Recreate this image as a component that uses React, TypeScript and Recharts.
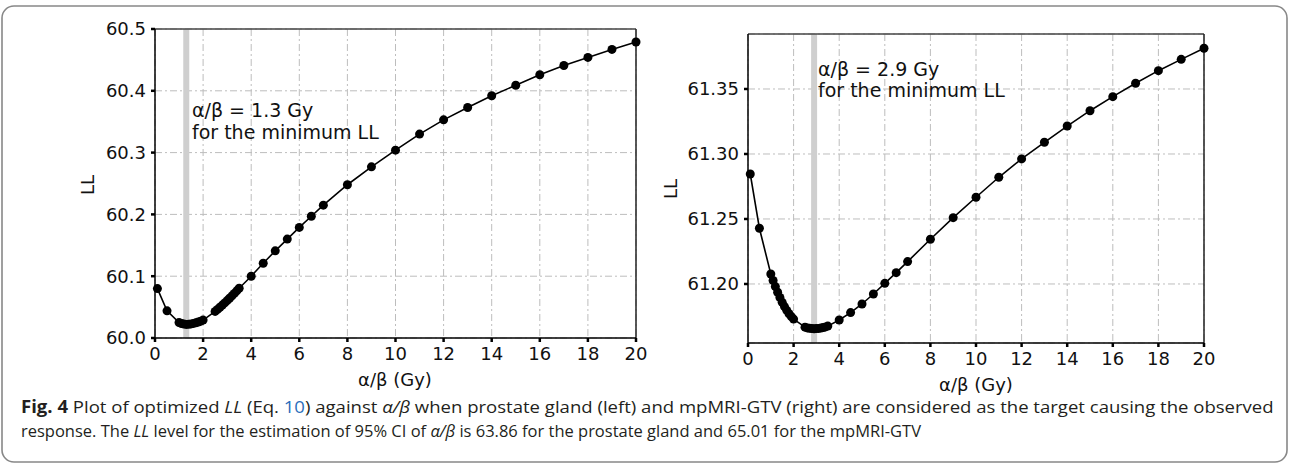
import React, { useLayoutEffect, useRef, useState } from 'react';
import { LineChart, Line, XAxis, YAxis, CartesianGrid, ReferenceLine } from 'recharts';

// α/β values (Gy) at which LL was evaluated
const alphaBeta = [
  0.1, 0.5, 1.0, 1.1, 1.2, 1.3, 1.4, 1.5, 1.6, 1.7, 1.8, 1.9, 2.0,
  2.5, 2.6, 2.7, 2.8, 2.9, 3.0, 3.1, 3.2, 3.3, 3.4, 3.5,
  4, 4.5, 5, 5.5, 6, 6.5, 7, 8, 9, 10, 11, 12, 13, 14, 15, 16, 17, 18, 19, 20,
];

// Optimized LL, prostate gland (left)
const llProstate = [
  60.080, 60.044, 60.025, 60.0235, 60.0225, 60.0220, 60.0222, 60.0228, 60.0236, 60.0246, 60.0258, 60.0273, 60.0290,
  60.0430, 60.0463, 60.0497, 60.0532, 60.0568, 60.0605, 60.0643, 60.0682, 60.0722, 60.0763, 60.0805,
  60.100, 60.121, 60.141, 60.160, 60.179, 60.197, 60.215, 60.248, 60.277, 60.304, 60.330, 60.353, 60.373,
  60.392, 60.409, 60.426, 60.441, 60.454, 60.467, 60.479,
];

// Optimized LL, mpMRI-GTV (right)
const llGtv = [
  61.2846, 61.2429, 61.2077, 61.2027, 61.1980, 61.1936, 61.1896, 61.1859, 61.1826, 61.1797, 61.1771, 61.1749, 61.1730,
  61.1668, 61.1662, 61.1659, 61.1657, 61.1656, 61.1657, 61.1658, 61.1661, 61.1665, 61.1670, 61.1676,
  61.1723, 61.1780, 61.1846, 61.1923, 61.2005, 61.2087, 61.2172, 61.2344, 61.2510, 61.2667, 61.2821, 61.2962,
  61.3090, 61.3215, 61.3333, 61.3441, 61.3544, 61.3641, 61.3728, 61.3813,
];

const xTicks = [0, 2, 4, 6, 8, 10, 12, 14, 16, 18, 20];
const yTicksProstate = [60.0, 60.1, 60.2, 60.3, 60.4, 60.5];
const yTicksGtv = [61.2, 61.25, 61.3, 61.35];
const xDomain = [0, 20];
const prostateDomain = [60.0, 60.5];
const gtvDomain = [61.1546, 61.3923];
const prostateMinAB = 1.3;
const gtvMinAB = 2.9;

const prostateData = alphaBeta.map((ab, i) => ({ ab, ll: llProstate[i] }));
const gtvData = alphaBeta.map((ab, i) => ({ ab, ll: llGtv[i] }));

const TICK_FONT = { fontFamily: 'DejaVu Sans', fontSize: 18, fill: '#111' };
const GRID = { stroke: '#bdbdbd', strokeDasharray: '7 3 2 3', strokeWidth: 1 };

function Panel({ data, yDomain, yTicks, yFmt, minAB, width, height, margin, yWidth }: any) {
  return (
    <LineChart width={width} height={height} data={data} margin={margin}>
      <CartesianGrid {...GRID} />
      <ReferenceLine x={minAB} stroke="#cfcfcf" strokeWidth={6} ifOverflow="visible" />
      <ReferenceLine y={yDomain[1]} stroke="#444" strokeWidth={1.3} />
      <ReferenceLine x={xDomain[1]} stroke="#222" strokeWidth={1.5} />
      <XAxis
        dataKey="ab"
        type="number"
        domain={xDomain}
        ticks={xTicks}
        interval={0}
        height={30}
        tickSize={4}
        tickMargin={5}
        axisLine={{ stroke: '#000', strokeWidth: 1.5 }}
        tickLine={{ stroke: '#000', strokeWidth: 2.5 }}
        tick={TICK_FONT}
      />
      <YAxis
        dataKey="ll"
        type="number"
        domain={yDomain}
        ticks={yTicks}
        interval={0}
        width={yWidth}
        tickSize={4}
        tickMargin={5}
        tickFormatter={yFmt}
        axisLine={{ stroke: '#000', strokeWidth: 1.5 }}
        tickLine={{ stroke: '#000', strokeWidth: 2.5 }}
        tick={TICK_FONT}
        allowDataOverflow
      />
      <Line
        dataKey="ll"
        stroke="#000"
        strokeWidth={1.6}
        dot={{ r: 4.5, fill: '#000', stroke: '#000', strokeWidth: 0 }}
        activeDot={false}
        isAnimationActive={false}
      />
    </LineChart>
  );
}

function FitLine({ x, y, width, children }: any) {
  const ref = useRef<HTMLDivElement>(null);
  const [sx, setSx] = useState(1);
  useLayoutEffect(() => {
    if (ref.current) {
      const w = ref.current.scrollWidth;
      if (w > 0) setSx(width / w);
    }
  }, [width]);
  return (
    <div
      ref={ref}
      style={{
        position: 'absolute',
        left: x,
        top: y,
        whiteSpace: 'nowrap',
        fontFamily: 'Open Sans',
        fontSize: 17,
        lineHeight: '20px',
        color: '#231f20',
        transform: `scaleX(${sx})`,
        transformOrigin: '0 0',
      }}
    >
      {children}
    </div>
  );
}

export default function App() {
  const ann = { fontFamily: 'DejaVu Sans', fontSize: 19, fill: '#111' };
  const axisTitle = { fontFamily: 'DejaVu Sans', fontSize: 18, fill: '#111' };
  return (
    <div style={{ position: 'absolute', left: 0, top: 0, width: 1290, height: 465, background: '#fff', overflow: 'hidden' }}>
      <div style={{ position: 'absolute', left: 0, top: 0 }}>
        <Panel
          data={prostateData}
          yDomain={prostateDomain}
          yTicks={yTicksProstate}
          yFmt={(v: number) => v.toFixed(1)}
          minAB={prostateMinAB}
          width={700}
          height={420}
          margin={{ top: 29, right: 64, bottom: 52, left: 0 }}
          yWidth={155}
        />
      </div>
      <div style={{ position: 'absolute', left: 600, top: 0 }}>
        <Panel
          data={gtvData}
          yDomain={gtvDomain}
          yTicks={yTicksGtv}
          yFmt={(v: number) => v.toFixed(2)}
          minAB={gtvMinAB}
          width={680}
          height={420}
          margin={{ top: 34, right: 76, bottom: 47, left: 0 }}
          yWidth={148}
        />
      </div>
      <svg width={1290} height={465} style={{ position: 'absolute', left: 0, top: 0, pointerEvents: 'none' }}>
        <rect x={2} y={6} width={1285} height={456} rx={12} ry={12} fill="none" stroke="#888" strokeWidth={1.6} />
        <text x={192} y={117} {...ann}>α/β = 1.3 Gy</text>
        <text x={192} y={139} {...ann}>for the minimum LL</text>
        <text x={818} y={76} {...ann}>α/β = 2.9 Gy</text>
        <text x={818} y={97} {...ann}>for the minimum LL</text>
        <text x={395} y={386} textAnchor="middle" {...axisTitle}>α/β (Gy)</text>
        <text x={976} y={391} textAnchor="middle" {...axisTitle}>α/β (Gy)</text>
        <text transform="translate(94,185) rotate(-90)" textAnchor="middle" {...axisTitle}>LL</text>
        <text transform="translate(677,189) rotate(-90)" textAnchor="middle" {...axisTitle}>LL</text>
      </svg>
      <FitLine x={21} y={397} width={1253}>
        <b>Fig. 4</b>
        {'  Plot of optimized '}
        <i>LL</i>
        {' (Eq. '}
        <span style={{ color: '#2a6ebb' }}>10</span>
        {') against '}
        <i>α/β</i>
        {' when prostate gland (left) and mpMRI-GTV (right) are considered as the target causing the observed'}
      </FitLine>
      <FitLine x={21} y={421} width={900}>
        {'response. The '}
        <i>LL</i>
        {' level for the estimation of 95% CI of '}
        <i>α/β</i>
        {' is 63.86 for the prostate gland and 65.01 for the mpMRI-GTV'}
      </FitLine>
    </div>
  );
}
